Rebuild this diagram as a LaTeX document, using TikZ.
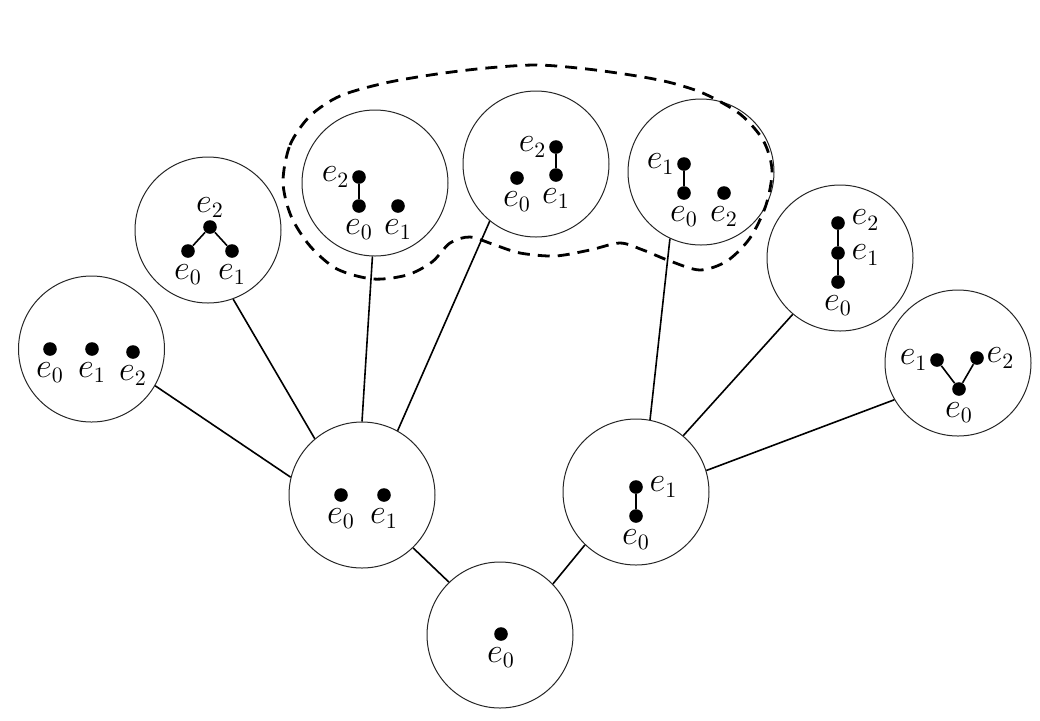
\documentclass[tikz,border=0pt]{standalone}
\usepackage{amsmath}
\usepackage{tikz}
\usetikzlibrary{positioning}
\tikzset{
  config/.style={circle, draw=black!85, line width=0.5pt, minimum size=73pt,
    inner sep=0pt},
  vtx/.style={circle, fill=black, inner sep=0pt, minimum size=6.8pt},
  vlab/.style={font=\fontsize{16}{18}\selectfont, inner sep=0pt},
  link/.style={line width=0.8pt},
  cluster/.style={line width=1.4pt, dash pattern=on 6pt off 4pt}
}

\begin{document}
\begin{tikzpicture}[x=0.5pt, y=-0.5pt]
  \useasboundingbox (0,0) rectangle (1040,720);

  % circles
  \node[config] (r)  at (500,635) {};
  \node[config] (m1) at (362,495) {};
  \node[config] (m2) at (636,492) {};
  \node[config] (t1) at (91.5,349) {};
  \node[config] (t2) at (208,230) {};
  \node[config] (t3) at (375,183) {};
  \node[config] (t4) at (536,164) {};
  \node[config] (t5) at (701,172) {};
  \node[config] (t6) at (840,258) {};
  \node[config] (t7) at (958,363) {};

  % tree edges
  \draw[link] (r.134) -- (m1.-46);
  \draw[link] (r.44) -- (m2.-134);
  \draw[link] (m1.166) -- (t1.-30);
  \draw[link] (m1.130) -- (t2.-70);
  \draw[link] (m1.90) -- (t3.-92);
  \draw[link] (m1.61) -- (t4.-129);
  \draw[link] (m2.79) -- (t5.-115);
  \draw[link] (m2.50) -- (t6.-130);
  \draw[link] (m2.17) -- (t7.-150);

  % root
  \node[vtx] (r0) at (501,634) {};
  \node[vlab, below=3pt of r0] (lr0) {$e_0$};

  % left middle
  \node[vtx] (m1a) at (341,495) {};
  \node[vtx] (m1b) at (384,495) {};
  \node[vlab, below=3pt of m1a] (lm1a) {$e_0$};
  \node[vlab, below=3pt of m1b] (lm1b) {$e_1$};

  % right middle
  \node[vtx] (m2b) at (636,487) {};
  \node[vtx] (m2a) at (636,516) {};
  \draw[link] (m2a) -- (m2b);
  \node[vlab, right=3pt of m2b] (lm2b) {$e_1$};
  \node[vlab, below=3pt of m2a] (lm2a) {$e_0$};

  % t1
  \node[vtx] (t1a) at (50,349) {};
  \node[vtx] (t1b) at (92,349) {};
  \node[vtx] (t1c) at (133,352) {};
  \node[vlab, below=3pt of t1a] (lt1a) {$e_0$};
  \node[vlab, below=3pt of t1b] (lt1b) {$e_1$};
  \node[vlab, below=3pt of t1c] (lt1c) {$e_2$};

  % t2
  \node[vtx] (t2c) at (210,227) {};
  \node[vtx] (t2a) at (188,251) {};
  \node[vtx] (t2b) at (232,251) {};
  \draw[link] (t2a) -- (t2c) -- (t2b);
  \node[vlab, above=1pt of t2c] (lt2c) {$e_2$};
  \node[vlab, below=3pt of t2a] (lt2a) {$e_0$};
  \node[vlab, below=3pt of t2b] (lt2b) {$e_1$};

  % t3
  \node[vtx] (t3c) at (359,177) {};
  \node[vtx] (t3a) at (359,206) {};
  \node[vtx] (t3b) at (398,206) {};
  \draw[link] (t3a) -- (t3c);
  \node[vlab, left=1pt of t3c] (lt3c) {$e_2$};
  \node[vlab, below=3pt of t3a] (lt3a) {$e_0$};
  \node[vlab, below=3pt of t3b] (lt3b) {$e_1$};

  % t4
  \node[vtx] (t4c) at (556,147) {};
  \node[vtx] (t4b) at (556,175) {};
  \node[vtx] (t4a) at (517,178) {};
  \draw[link] (t4b) -- (t4c);
  \node[vlab, left=1pt of t4c] (lt4c) {$e_2$};
  \node[vlab, below=3pt of t4a] (lt4a) {$e_0$};
  \node[vlab, below=3pt of t4b] (lt4b) {$e_1$};

  % t5
  \node[vtx] (t5b) at (684,164) {};
  \node[vtx] (t5a) at (684,193) {};
  \node[vtx] (t5c) at (724,193) {};
  \draw[link] (t5a) -- (t5b);
  \node[vlab, left=1pt of t5b] (lt5b) {$e_1$};
  \node[vlab, below=3pt of t5a] (lt5a) {$e_0$};
  \node[vlab, below=3pt of t5c] (lt5c) {$e_2$};

  % t6
  \node[vtx] (t6c) at (838,223) {};
  \node[vtx] (t6b) at (838,253) {};
  \node[vtx] (t6a) at (838,282) {};
  \draw[link] (t6a) -- (t6b) -- (t6c);
  \node[vlab, right=3pt of t6c, yshift=1.5pt] (lt6c) {$e_2$};
  \node[vlab, right=3pt of t6b, yshift=-1pt] (lt6b) {$e_1$};
  \node[vlab, below=3pt of t6a] (lt6a) {$e_0$};

  % t7
  \node[vtx] (t7b) at (937,360) {};
  \node[vtx] (t7c) at (977,358) {};
  \node[vtx] (t7a) at (959,389) {};
  \draw[link] (t7b) -- (t7a) -- (t7c);
  \node[vlab, left=1pt of t7b] (lt7b) {$e_1$};
  \node[vlab, right=1pt of t7c] (lt7c) {$e_2$};
  \node[vlab, below=3pt of t7a] (lt7a) {$e_0$};

  % dashed group
  \draw[cluster] plot[smooth cycle] coordinates {
    (283,182) (290,145) (310,116) (340,96) (385,83) (437,74) (487,68)
    (537,65) (587,69) (637,76) (672,83) (705,94) (740,114) (763,140)
    (772,170) (766,205) (750,238) (727,261) (700,270) (670,261)
    (643,250) (620,243) (590,250) (555,256) (520,253) (495,245)
    (470,237) (450,243) (432,262) (407,275) (373,279) (337,269)
    (310,246) (291,216)};
\end{tikzpicture}
\end{document}
